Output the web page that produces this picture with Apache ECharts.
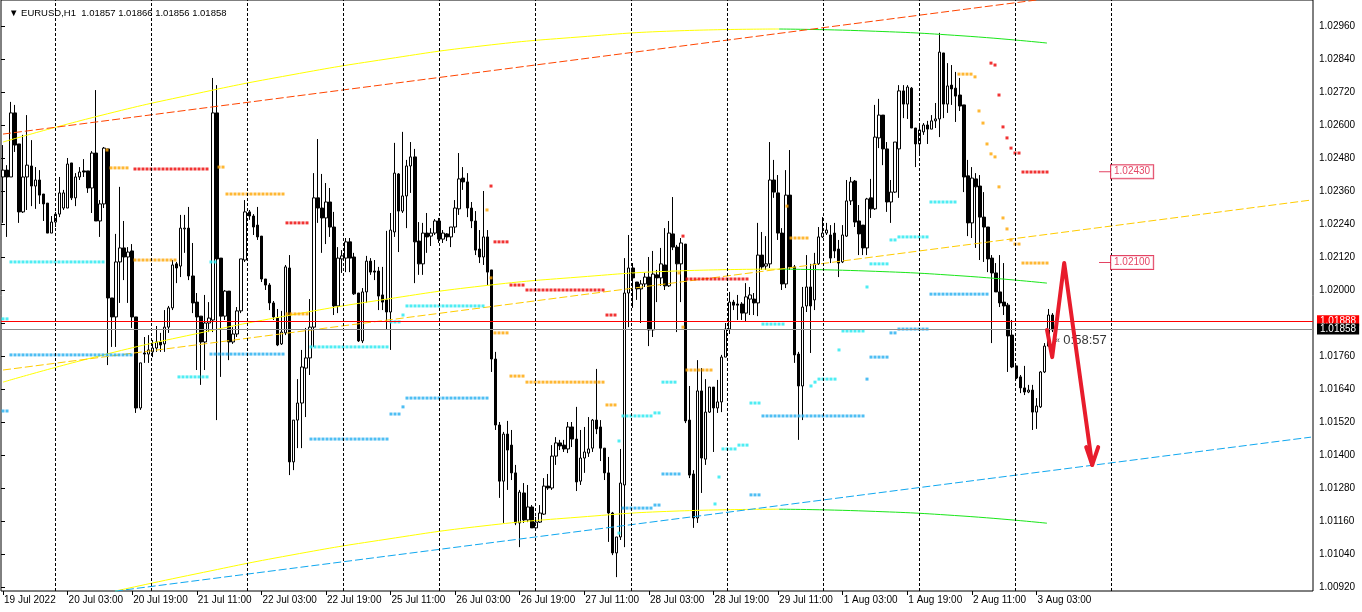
<!DOCTYPE html>
<html><head><meta charset="utf-8">
<script src="https://cdn.jsdelivr.net/npm/echarts/dist/echarts.min.js"></script>
<style>html,body{margin:0;padding:0;background:#fff}#c{width:1362px;height:612px}</style>
</head><body><div id="c"></div>
<script>
// ---------- DATA ----------
const opens = [1.02411,1.02436,1.02411,1.02644,1.02531,1.02284,1.02411,1.02451,1.02378,1.02400,1.02349,1.02316,1.02207,1.02247,1.02276,1.02298,1.02298,1.02462,1.02335,1.02411,1.02433,1.02433,1.02371,1.02498,1.02251,1.02313,1.02513,1.01971,1.01902,1.02102,1.02153,1.02120,1.02142,1.01902,1.01571,1.01771,1.01767,1.01775,1.01789,1.01811,1.01804,1.01865,1.01935,1.02095,1.02087,1.02222,1.02225,1.02051,1.01956,1.01905,1.01811,1.01880,1.01891,1.02644,1.02116,1.01905,1.01996,1.01811,1.01840,1.01924,1.02109,1.02284,1.02269,1.02236,1.02196,1.02040,1.02018,1.01953,1.01898,1.01804,1.01844,1.02080,1.01375,1.01527,1.01589,1.01716,1.01753,1.01865,1.02335,1.02298,1.02262,1.02320,1.02229,1.01942,1.02113,1.02116,1.02175,1.02120,1.01989,1.01815,1.01993,1.02105,1.02069,1.02069,1.01982,1.01964,1.01920,1.02211,1.02422,1.02287,1.02342,1.02451,1.02484,1.02178,1.02095,1.02207,1.02196,1.02207,1.02251,1.02185,1.02204,1.02193,1.02229,1.02295,1.02407,1.02393,1.02298,1.02251,1.02149,1.02120,1.02193,1.02073,1.01749,1.01509,1.01305,1.01476,1.01436,1.01335,1.01153,1.01262,1.01164,1.01211,1.01135,1.01156,1.01185,1.01287,1.01280,1.01396,1.01444,1.01436,1.01422,1.01502,1.01458,1.01305,1.01389,1.01407,1.01425,1.01527,1.01502,1.01425,1.01335,1.01189,1.01044,1.01102,1.01291,1.01989,1.02080,1.02029,1.02004,1.02022,1.02047,1.01855,1.02055,1.02044,1.02091,1.02015,1.02204,1.02156,1.02095,1.02167,1.01527,1.01331,1.01171,1.01633,1.01385,1.01556,1.01647,1.01571,1.01593,1.01756,1.01858,1.01956,1.01949,1.01949,1.01916,1.01967,1.01967,1.01953,1.02127,1.02087,1.02095,1.02400,1.02353,1.02207,1.02022,1.02345,1.02084,1.01767,1.01651,1.01942,1.02011,1.01964,1.02095,1.02193,1.02207,1.02200,1.02207,1.02149,1.02102,1.02196,1.02324,1.02396,1.02251,1.02236,1.02153,1.02335,1.02295,1.02553,1.02636,1.02513,1.02320,1.02356,1.02513,1.02724,1.02676,1.02734,1.02589,1.02531,1.02575,1.02600,1.02585,1.02615,1.02622,1.02862,1.02676,1.02745,1.02734,1.02709,1.02673,1.02415,1.02244,1.02404,1.02378,1.02265,1.02229,1.02116,1.02062,1.01993,1.01956,1.01945,1.01836,1.01724,1.01684,1.01644,1.01629,1.01636,1.01556,1.01575,1.01702,1.01796,1.01909,1.01857];
const closes = [1.02436,1.02411,1.02644,1.02527,1.02284,1.02411,1.02454,1.02378,1.02400,1.02345,1.02313,1.02207,1.02247,1.02276,1.02353,1.02353,1.02458,1.02335,1.02411,1.02429,1.02429,1.02371,1.02498,1.02251,1.02313,1.02516,1.01971,1.01902,1.02102,1.02153,1.02120,1.02138,1.01902,1.01571,1.01735,1.01767,1.01782,1.01789,1.01811,1.01800,1.01865,1.01935,1.02091,1.02080,1.02225,1.02225,1.02051,1.01953,1.01902,1.01811,1.01880,1.01898,1.02644,1.02113,1.01905,1.01996,1.01811,1.01840,1.01924,1.02113,1.02284,1.02269,1.02229,1.02193,1.02040,1.02018,1.01953,1.01902,1.01800,1.01847,1.02084,1.01375,1.01527,1.01589,1.01720,1.01753,1.01865,1.02335,1.02298,1.02262,1.02320,1.02229,1.01942,1.02116,1.02124,1.02175,1.02116,1.01986,1.01815,1.01993,1.02105,1.02065,1.02065,1.01978,1.01956,1.01920,1.02218,1.02425,1.02287,1.02342,1.02451,1.02484,1.02175,1.02095,1.02207,1.02193,1.02207,1.02251,1.02185,1.02207,1.02193,1.02229,1.02298,1.02404,1.02393,1.02298,1.02251,1.02145,1.02120,1.02193,1.02065,1.01749,1.01509,1.01305,1.01476,1.01418,1.01335,1.01153,1.01265,1.01164,1.01211,1.01135,1.01156,1.01189,1.01287,1.01280,1.01396,1.01444,1.01433,1.01422,1.01502,1.01458,1.01302,1.01389,1.01411,1.01422,1.01527,1.01495,1.01425,1.01335,1.01189,1.01044,1.01102,1.01298,1.01989,1.02080,1.02044,1.02004,1.02022,1.02047,1.01855,1.02058,1.02044,1.02095,1.02015,1.02207,1.02156,1.02095,1.02171,1.01524,1.01327,1.01171,1.01633,1.01389,1.01556,1.01647,1.01571,1.01593,1.01756,1.01858,1.01956,1.01945,1.01945,1.01916,1.01975,1.01982,1.01953,1.02127,1.02084,1.02095,1.02400,1.02356,1.02207,1.02022,1.02345,1.02084,1.01764,1.01651,1.01938,1.02011,1.01942,1.02095,1.02193,1.02207,1.02218,1.02116,1.02142,1.02098,1.02200,1.02324,1.02393,1.02247,1.02204,1.02153,1.02331,1.02295,1.02556,1.02636,1.02513,1.02320,1.02356,1.02538,1.02724,1.02676,1.02738,1.02589,1.02531,1.02582,1.02600,1.02585,1.02615,1.02622,1.02865,1.02676,1.02742,1.02731,1.02705,1.02669,1.02411,1.02244,1.02407,1.02375,1.02265,1.02229,1.02113,1.02062,1.01993,1.01953,1.01942,1.01833,1.01720,1.01680,1.01644,1.01629,1.01636,1.01556,1.01578,1.01702,1.01796,1.01909,1.01855,1.01858];
const lows = [1.02244,1.02193,1.02411,1.02502,1.02244,1.02280,1.02291,1.02305,1.02295,1.02313,1.02251,1.02207,1.02207,1.02229,1.02265,1.02291,1.02298,1.02327,1.02305,1.02400,1.02411,1.02353,1.02280,1.02251,1.02193,1.02298,1.01727,1.01793,1.01793,1.01953,1.02036,1.01953,1.01862,1.01553,1.01564,1.01735,1.01735,1.01756,1.01775,1.01775,1.01775,1.01844,1.01927,1.02025,1.02047,1.02135,1.02036,1.01916,1.01709,1.01655,1.01709,1.01847,1.01847,1.01527,1.01684,1.01891,1.01745,1.01804,1.01829,1.01916,1.02102,1.02255,1.02200,1.02182,1.02029,1.02000,1.01927,1.01891,1.01796,1.01800,1.01836,1.01327,1.01345,1.01425,1.01425,1.01538,1.01691,1.01793,1.02244,1.02135,1.02167,1.02193,1.01909,1.01916,1.02062,1.02065,1.02065,1.01982,1.01811,1.01807,1.01953,1.02055,1.02036,1.01927,1.01927,1.01855,1.01782,1.02193,1.02138,1.02280,1.02225,1.02353,1.02025,1.02055,1.02055,1.02135,1.02160,1.02200,1.02171,1.02171,1.02178,1.02156,1.02207,1.02273,1.02364,1.02265,1.02225,1.02127,1.02098,1.02091,1.02018,1.01702,1.01491,1.01244,1.01153,1.01273,1.01309,1.01145,1.01065,1.01153,1.01156,1.01135,1.01127,1.01153,1.01182,1.01273,1.01273,1.01364,1.01418,1.01411,1.01407,1.01429,1.01269,1.01291,1.01335,1.01393,1.01411,1.01476,1.01378,1.01309,1.01084,1.01036,1.00956,1.01091,1.01065,1.01865,1.01935,1.01964,1.01880,1.02011,1.01796,1.01829,1.01956,1.02015,1.02000,1.02011,1.02145,1.01847,1.01956,1.01516,1.01316,1.01135,1.01153,1.01262,1.01364,1.01553,1.01411,1.01553,1.01556,1.01756,1.01840,1.01927,1.01891,1.01891,1.01887,1.01909,1.01909,1.01905,1.02073,1.02073,1.02080,1.02335,1.02182,1.02000,1.02007,1.02073,1.01735,1.01455,1.01527,1.01920,1.01771,1.01927,1.02091,1.02189,1.02200,1.02098,1.02116,1.02047,1.02098,1.02193,1.02309,1.02229,1.02127,1.02127,1.02127,1.02262,1.02291,1.02516,1.02454,1.02284,1.02244,1.02353,1.02335,1.02625,1.02622,1.02589,1.02447,1.02487,1.02564,1.02531,1.02585,1.02589,1.02556,1.02625,1.02644,1.02673,1.02611,1.02651,1.02356,1.02196,1.02189,1.02153,1.02109,1.02102,1.02065,1.01807,1.01993,1.01938,1.01909,1.01702,1.01716,1.01676,1.01625,1.01618,1.01625,1.01491,1.01495,1.01571,1.01698,1.01793,1.01847,1.01856];
const highs = [1.02527,1.02454,1.02684,1.02673,1.02531,1.02564,1.02636,1.02545,1.02447,1.02436,1.02349,1.02316,1.02269,1.02284,1.02411,1.02364,1.02480,1.02462,1.02425,1.02447,1.02476,1.02433,1.02505,1.02727,1.02327,1.02520,1.02513,1.01971,1.02204,1.02375,1.02251,1.02156,1.02167,1.01902,1.01735,1.01829,1.01836,1.01818,1.01869,1.01844,1.01927,1.01942,1.02109,1.02102,1.02273,1.02273,1.02302,1.02171,1.01989,1.01905,1.01982,1.01956,1.02771,1.02745,1.02116,1.02000,1.01996,1.01865,1.01938,1.02113,1.02327,1.02291,1.02276,1.02302,1.02196,1.02040,1.02025,1.01960,1.01931,1.01924,1.02091,1.02127,1.01527,1.01676,1.01782,1.01862,1.01967,1.02425,1.02549,1.02422,1.02389,1.02371,1.02284,1.02156,1.02145,1.02189,1.02189,1.02135,1.01989,1.02007,1.02124,1.02116,1.02109,1.02084,1.02084,1.02215,1.02280,1.02535,1.02425,1.02575,1.02473,1.02538,1.02513,1.02247,1.02244,1.02280,1.02225,1.02258,1.02262,1.02218,1.02207,1.02229,1.02327,1.02498,1.02447,1.02425,1.02320,1.02287,1.02218,1.02360,1.02218,1.02073,1.01775,1.01520,1.01484,1.01524,1.01491,1.01364,1.01273,1.01298,1.01291,1.01218,1.01175,1.01218,1.01316,1.01331,1.01436,1.01465,1.01455,1.01455,1.01520,1.01520,1.01575,1.01491,1.01502,1.01538,1.01531,1.01713,1.01527,1.01425,1.01393,1.01193,1.01102,1.01422,1.02116,1.02200,1.02098,1.02029,1.02036,1.02062,1.02120,1.02142,1.02073,1.02153,1.02225,1.02251,1.02338,1.02164,1.02189,1.02167,1.01651,1.01345,1.01745,1.01716,1.01676,1.01647,1.01647,1.01673,1.01764,1.01880,1.01993,1.01964,1.01982,1.01956,1.02025,1.02011,1.01989,1.02244,1.02211,1.02196,1.02538,1.02473,1.02418,1.02225,1.02436,1.02509,1.02091,1.01775,1.02011,1.02127,1.02095,1.02135,1.02229,1.02265,1.02244,1.02236,1.02244,1.02182,1.02236,1.02400,1.02411,1.02400,1.02309,1.02236,1.02335,1.02404,1.02673,1.02695,1.02636,1.02538,1.02400,1.02538,1.02745,1.02745,1.02745,1.02738,1.02589,1.02600,1.02607,1.02615,1.02636,1.02680,1.02935,1.02862,1.02825,1.02818,1.02793,1.02771,1.02673,1.02473,1.02447,1.02425,1.02418,1.02356,1.02229,1.02127,1.02098,1.02127,1.02098,1.01953,1.01891,1.01724,1.01691,1.01724,1.01655,1.01655,1.01607,1.01705,1.01807,1.01931,1.01916,1.01866];

const tradingDays = ['19 Jul','20 Jul','21 Jul','22 Jul','25 Jul','26 Jul','27 Jul','28 Jul','29 Jul','1 Aug','2 Aug','3 Aug','4 Aug','5 Aug'];
const tickLabels = ['19 Jul 2022','20 Jul 03:00','20 Jul 19:00','21 Jul 11:00','22 Jul 03:00','22 Jul 19:00','25 Jul 11:00','26 Jul 03:00','26 Jul 19:00','27 Jul 11:00','28 Jul 03:00','28 Jul 19:00','29 Jul 11:00','1 Aug 03:00','1 Aug 19:00','2 Aug 11:00','3 Aug 03:00'];
const separatorBars = [13,37,61,85,109,133,157,181,205,229,253,277];

const askPrice = 1.01888;
const bidPrice = 1.01858;
const titleText = '▼ EURUSD,H1  1.01857 1.01866 1.01856 1.01858';
const countdownText = '0:58:57';

// regression channel: [bar, price]
const chanUpPast = [[0,1.02538],[24,1.02633],[48,1.02713],[72,1.02782],[96,1.02840],[120,1.02888],[144,1.02920],[168,1.02942],[194,1.02949]];
const chanUpRecent = [[194,1.02949],[216,1.02942],[240,1.02924],[261,1.02898]];
const chanMidPast = [[0,1.01665],[24,1.01760],[48,1.01840],[72,1.01909],[96,1.01967],[120,1.02015],[144,1.02047],[168,1.02069],[194,1.02076]];
const chanMidRecent = [[194,1.02076],[216,1.02069],[240,1.02051],[261,1.02025]];
const chanLowPast = [[28,1.00905],[48,1.00967],[72,1.01036],[96,1.01094],[120,1.01142],[144,1.01174],[168,1.01196],[194,1.01203]];
const chanLowRecent = [[194,1.01203],[216,1.01196],[240,1.01178],[261,1.01152]];
// trend channel
const trendUpper = [[0,1.02567],[327,1.03184]];
const trendMiddle = [[0,1.01709],[327,1.02327]];
const trendLower = [[28,1.00905],[327,1.01465]];

// indicator dot runs: [fromBar, toBar, price]
const aquaDots = [[0,1,1.01895],[2,25,1.02102],[44,51,1.01684],[52,53,1.02102],[77,96,1.01793],[97,99,1.01884],[100,100,1.01909],[101,120,1.01942],[154,154,1.01451],[154,154,1.01116],[155,162,1.01542],[163,164,1.01553],[165,168,1.01665],[178,178,1.01222],[179,179,1.01320],[180,183,1.01422],[184,186,1.01436],[187,189,1.01589],[190,195,1.01876],[202,202,1.01651],[203,203,1.01665],[204,208,1.01676],[209,209,1.01782],[210,215,1.01851],[216,216,1.02011],[217,221,1.02095],[222,223,1.02182],[224,231,1.02193],[232,238,1.02320]];
const blueDots = [[0,1,1.01560],[2,32,1.01764],[52,70,1.01767],[77,96,1.01458],[97,99,1.01549],[100,100,1.01575],[101,121,1.01607],[155,162,1.01207],[163,164,1.01218],[165,169,1.01331],[187,189,1.01255],[190,215,1.01542],[216,216,1.01676],[217,221,1.01756],[222,223,1.01844],[224,231,1.01858],[232,246,1.01985]];
const orangeDots = [[26,26,1.02509],[27,31,1.02444],[33,43,1.02109],[54,55,1.02447],[56,70,1.02349],[71,76,1.01913],[121,121,1.02291],[122,122,1.02044],[123,126,1.01844],[127,130,1.01687],[131,150,1.01665],[151,153,1.01582],[169,169,1.02062],[170,170,1.01865],[171,177,1.01709],[196,196,1.02305],[197,201,1.02189],[239,242,1.02785],[243,243,1.02775],[244,244,1.02651],[245,245,1.02607],[246,246,1.02531],[247,247,1.02495],[248,248,1.02484],[249,249,1.02375],[250,250,1.02262],[251,251,1.02222],[252,252,1.02182],[253,254,1.02167],[255,261,1.02098]];
const redDots = [[33,51,1.02440],[71,76,1.02244],[122,122,1.02378],[123,126,1.02175],[127,130,1.02018],[131,150,1.02000],[151,153,1.01909],[170,170,1.02196],[171,186,1.02040],[247,247,1.02825],[248,248,1.02818],[249,249,1.02709],[250,250,1.02593],[251,251,1.02553],[252,252,1.02516],[253,254,1.02498],[255,261,1.02429]];

const levelLabels = [[275.5,1.02430,'1.02430'],[275.5,1.02100,'1.02100']];
const arrowPath = [[261,1.01855],[262.3,1.01756],[265.3,1.02098],[272.3,1.01364]];
const arrowHead = [[270.8,1.01429],[272.3,1.01364],[273.8,1.01429]];
const countdownAnchor = [263,1.01815];

// ---------- BUILD ----------
const TOTAL_SLOTS = 328;
const categories = [];
for (let d = 0; d < tradingDays.length && categories.length < TOTAL_SLOTS; d++) {
  for (let h = (d === 0 ? 11 : 0); h < 24 && categories.length < TOTAL_SLOTS; h++) {
    categories.push(tradingDays[d] + ' ' + String(h).padStart(2,'0') + ':00');
  }
}
const candleData = opens.map((o,i)=>[o, closes[i], lows[i], highs[i]]);
const expand = segs => { const out=[]; segs.forEach(([a,b,p])=>{ for(let i=a;i<=b;i++) out.push([i,p]); }); return out; };

const FONT = '"Liberation Sans", "DejaVu Sans", sans-serif';
const C = {yellow:'#ffff00', green:'#19e619', orangeRed:'#ff4500', gold:'#ffcc00', blueLine:'#10a8f0',
  aqua:'#22e8f0', blue:'#22aef0', orange:'#ffa500', red:'#ee0000', crimson:'#dc143c', arrow:'#e81c2c'};

const lineS = (data, color, opts={}) => Object.assign({
  type:'line', xAxisIndex:1, yAxisIndex:0, data, showSymbol:false, symbol:'none', silent:true, z:3,
  lineStyle:{color, width:1}, animation:false
}, opts);
const dotS = (segs, color) => ({
  type:'scatter', xAxisIndex:1, yAxisIndex:0, data: expand(segs), symbol:'rect', symbolSize:3,
  itemStyle:{color}, silent:true, z:4, animation:false
});
const priceBox = (price, bg) => ({show:true, position:'end', distance:4, formatter:()=>price.toFixed(5),
  color:'#fff', backgroundColor:bg, padding:[1,3,0,3], fontSize:10, fontFamily:FONT});

const chart = echarts.init(document.getElementById('c'), null, {renderer:'canvas'});
chart.setOption({
  animation:false,
  backgroundColor:'#ffffff',
  title:{text:titleText, left:4, top:3, textStyle:{fontSize:9.5, fontWeight:'normal', color:'#000', fontFamily:FONT}},
  grid:[
    {left:1, top:0, width:1312, height:591, show:true, borderColor:'#000', borderWidth:1, backgroundColor:'#fff', outerBoundsMode:'none', containLabel:false},
    {left:1, top:26, width:1312, height:561, show:false, outerBoundsMode:'none', containLabel:false}
  ],
  xAxis:[
    {gridIndex:0, type:'category', data:categories, boundaryGap:true,
      axisLine:{show:false}, splitLine:{show:false},
      axisTick:{show:true, alignWithLabel:true, length:4, lineStyle:{color:'#000'},
        interval:(idx)=> idx % 16 === 0 && idx/16 < tickLabels.length},
      axisLabel:{show:true, interval:(idx)=> idx % 16 === 0 && idx/16 < tickLabels.length,
        formatter:(v,idx)=> tickLabels[idx/16] || '', align:'left', margin:4, padding:[0,0,0,1],
        fontSize:10, color:'#000', fontFamily:FONT, hideOverlap:false}},
    {gridIndex:0, type:'value', min:-0.5, max:TOTAL_SLOTS-0.5, show:false},
    {gridIndex:1, type:'value', min:0, max:1, show:false}
  ],
  yAxis:[
    {gridIndex:0, type:'value', min:1.009055, max:1.030545, show:false, splitLine:{show:false}},
    {gridIndex:1, type:'value', position:'right', min:1.0092, max:1.0296, interval:0.0012,
      axisLine:{show:false}, splitLine:{show:false},
      axisTick:{show:true, length:4, inside:false, lineStyle:{color:'#000'}},
      axisLabel:{show:true, margin:6, fontSize:10, color:'#000', fontFamily:FONT,
        formatter:v=>v.toFixed(5), hideOverlap:false}}
  ],
  series:[
    // period separators
    {type:'line', xAxisIndex:1, yAxisIndex:0, data:[[0,1.02],[1,1.02]], showSymbol:false, symbol:'none',
      lineStyle:{opacity:0}, silent:true, z:1,
      markLine:{silent:true, symbol:'none', animation:false, precision:5, label:{show:false},
        lineStyle:{color:'#000', type:[3,2], width:1},
        data: separatorBars.map(b=>({xAxis:b}))}},
    // candles
    {type:'candlestick', xAxisIndex:0, yAxisIndex:0, data:candleData, barWidth:3, silent:true, z:2,
      itemStyle:{color:'#ffffff', color0:'#000000', borderColor:'#000000', borderColor0:'#000000', borderColorDoji:'#000000', borderWidth:1}},
    // ask / bid lines
    {type:'line', xAxisIndex:1, yAxisIndex:0, data:[[0,bidPrice],[1,bidPrice]], showSymbol:false, symbol:'none',
      lineStyle:{opacity:0}, silent:true, z:3,
      markLine:{silent:true, symbol:'none', animation:false, precision:5,
        data:[
          {yAxis:askPrice, lineStyle:{color:'#ff0000', type:'solid', width:1}, label:priceBox(askPrice,'#ff0000')},
          {yAxis:bidPrice, lineStyle:{color:'#8c8c8c', type:'solid', width:1}, label:priceBox(bidPrice,'#000000')}
        ]}},
    // channels
    lineS(chanUpPast, C.yellow, {smooth:true}),
    lineS(chanUpRecent, C.green, {smooth:true}),
    lineS(chanMidPast, C.yellow, {smooth:true}),
    lineS(chanMidRecent, C.green, {smooth:true}),
    lineS(chanLowPast, C.yellow, {smooth:true, clip:false}),
    lineS(chanLowRecent, C.green, {smooth:true}),
    lineS(trendUpper, C.orangeRed, {lineStyle:{color:C.orangeRed, width:1, type:[8,3]}}),
    lineS(trendMiddle, C.gold, {lineStyle:{color:C.gold, width:1, type:[8,3]}}),
    lineS(trendLower, C.blueLine, {clip:false, lineStyle:{color:C.blueLine, width:1, type:[8,3]}}),
    // indicator dots
    dotS(aquaDots, C.aqua),
    dotS(blueDots, C.blue),
    dotS(orangeDots, C.orange),
    dotS(redDots, C.red),
    // level labels
    {type:'scatter', xAxisIndex:1, yAxisIndex:0, silent:true, z:5,
      data: levelLabels.map(([x,p,t])=>({value:[x,p], name:t})),
      symbol:'rect', symbolSize:[12,1], itemStyle:{color:C.crimson},
      label:{show:true, position:'right', distance:0, formatter:p=>p.name, color:C.crimson,
        borderColor:C.crimson, borderWidth:1, backgroundColor:'#fff', padding:[2,3,1,3], fontSize:10, fontFamily:FONT}},
    // countdown
    {type:'scatter', xAxisIndex:1, yAxisIndex:0, silent:true, z:4, data:[countdownAnchor], symbolSize:0,
      label:{show:true, position:'right', distance:0, formatter:'{a|«} {b|'+countdownText+'}',
        rich:{a:{fontSize:9, color:'#000', fontFamily:FONT}, b:{fontSize:13, color:'#000', fontFamily:FONT}}}},
    // hand-drawn arrow
    lineS(arrowPath, C.arrow, {z:6, lineStyle:{color:C.arrow, width:4, cap:'round', join:'round'}}),
    lineS(arrowHead, C.arrow, {z:6, lineStyle:{color:C.arrow, width:4, cap:'round', join:'round'}})
  ]
});
</script></body></html>
